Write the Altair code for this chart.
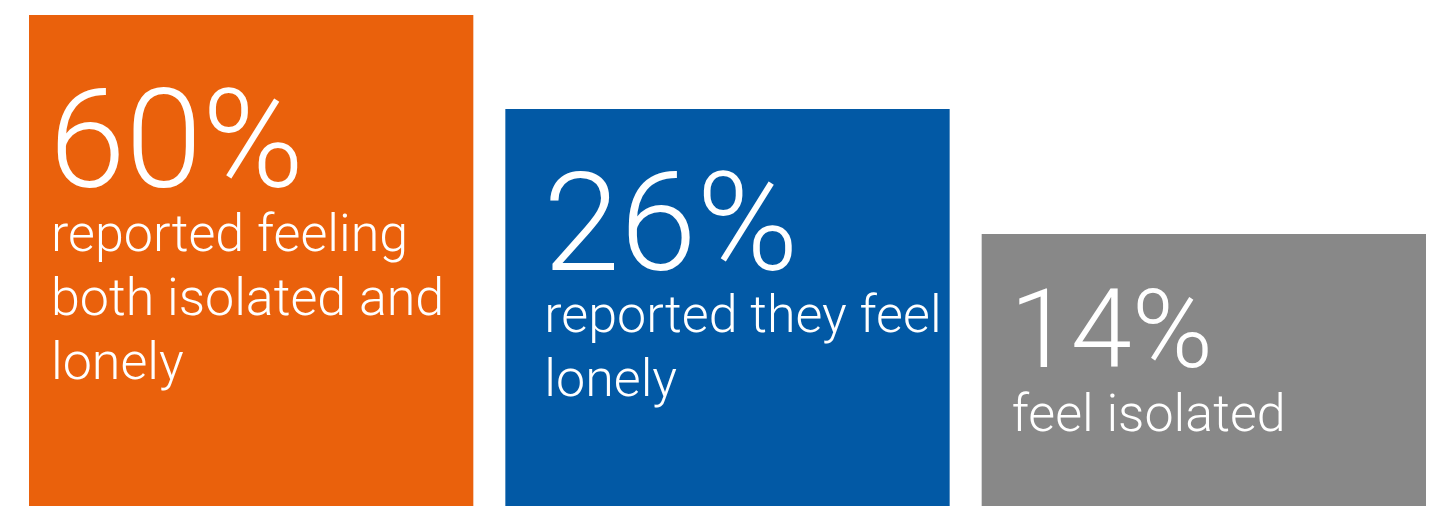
import altair as alt
import pandas as pd

# --- data ---
keys = ["both", "lonely", "isolated"]
pct_labels = ["60%", "26%", "14%"]
pct_values = [60, 26, 14]
tile_heights = [491, 397, 272]  # visual tile heights (px units on a 0-506 scale)
captions = [
    "reported feeling\nboth isolated and\nlonely",
    "reported they feel\nlonely",
    "feel isolated",
]
colors = ["#EA610C", "#0259A5", "#888888"]

df = pd.DataFrame({
    "key": keys,
    "pct": pct_labels,
    "value": pct_values,
    "tile": tile_heights,
    "caption": captions,
})

FONT = "Roboto"
W, H = 1397, 506

xenc = alt.X("key:N", sort=keys, axis=None,
             scale=alt.Scale(paddingInner=0.0672, paddingOuter=0))
yenc = alt.Y("tile:Q", axis=None,
             scale=alt.Scale(domain=[0, 506], nice=False, zero=True))

bars = alt.Chart(df).mark_bar().encode(
    x=xenc,
    y=yenc,
    color=alt.Color("key:N", sort=keys, legend=None,
                    scale=alt.Scale(domain=keys, range=colors)),
)

xtext = alt.X("key:N", sort=keys, axis=None, bandPosition=0,
              scale=alt.Scale(paddingInner=0.0672, paddingOuter=0))

# per-tile text styling: (number dx, number dy, number size, caption dx, caption dy)
styles = {
    "both": (20, 172, 138, 22, 236),
    "lonely": (38, 161, 138, 39, 223),
    "isolated": (28, 133, 110, 30, 197),
}

layers = [bars]
for k in keys:
    ndx, ndy, nsize, cdx, cdy = styles[k]
    sub = alt.Chart(df).transform_filter(alt.datum.key == k)
    num = sub.mark_text(align="left", baseline="alphabetic", dx=ndx, dy=ndy,
                        font=FONT, fontWeight=300, fontSize=nsize,
                        color="white").encode(x=xtext, y=yenc, text="pct:N")
    cap = sub.mark_text(align="left", baseline="alphabetic", dx=cdx, dy=cdy,
                        font=FONT, fontWeight=300, fontSize=52, lineHeight=64,
                        lineBreak="\n", color="white").encode(
        x=xtext, y=yenc, text="caption:N")
    layers += [num, cap]

chart = alt.layer(*layers).properties(
    width=W, height=H,
    autosize=alt.AutoSizeParams(type="none"),
    padding={"left": 29, "right": 10, "top": 0, "bottom": 0},
).configure_view(stroke=None)

chart.save("out.html", embed_options={"renderer": "svg", "actions": False})
